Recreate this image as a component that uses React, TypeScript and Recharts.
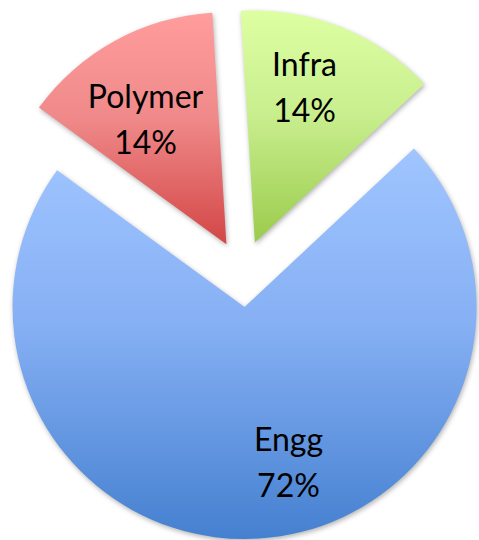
import React from 'react';
import { PieChart, Pie, Cell } from 'recharts';

// ---- data ----
const categories = ['Infra', 'Engg', 'Polymer'];
const shares = [14, 72, 14];
const percentLabels = ['14%', '72%', '14%'];

// ---- layout / style ----
const W = 479;
const H = 540;
const CX = 242.5;
const CY = 273.6;
const R = 232;
const EXPLODE = 33.5;
const START = 93.5;
const gradIds = ['gInfra', 'gEngg', 'gPolymer'];
const labelShift = [3.9, 12.2, 4.3];
const labelRadius = [0.7, 0.7, 0.64];
const RAD = Math.PI / 180;

const rows = categories.map((name, i) => ({ name, value: shares[i], pct: percentLabels[i] }));
const total = shares.reduce((a, b) => a + b, 0);
const mids = shares.map((v, i) => {
  const before = shares.slice(0, i).reduce((a, b) => a + b, 0);
  return START - ((before + v / 2) / total) * 360;
});

const makeLabel = (target: number) => (props: any) => {
  if (props.index !== target) return null;
  const ang = (mids[target] + labelShift[target]) * RAD;
  const r = R * labelRadius[target];
  const x = props.cx + r * Math.cos(ang);
  const y = props.cy - r * Math.sin(ang);
  return (
    <text
      x={x}
      y={y}
      textAnchor="middle"
      fill="#000"
      style={{ fontFamily: 'Lato, "Open Sans", sans-serif', fontSize: 32 }}
    >
      <tspan x={x} y={y - 12}>{rows[target].name}</tspan>
      <tspan x={x} y={y + 34}>{rows[target].pct}</tspan>
    </text>
  );
};

export default function App() {
  return (
    <div style={{ position: 'absolute', left: 0, top: 0, width: W, height: H, background: '#fff' }}>
      <style>{`.slice-shadow path.recharts-sector { filter: drop-shadow(1px 2px 2.5px rgba(0,0,0,0.3)); } .recharts-wrapper svg:focus, .recharts-sector:focus { outline: none; }`}</style>
      <PieChart width={W} height={H} margin={{ top: 0, right: 0, bottom: 0, left: 0 }}>
        <defs>
          <linearGradient id="gInfra" x1="0" y1="0" x2="0" y2="1">
            <stop offset="0%" stopColor="#DDFFA2" />
            <stop offset="45%" stopColor="#C8EE8E" />
            <stop offset="100%" stopColor="#9BCB4C" />
          </linearGradient>
          <linearGradient id="gEngg" x1="0" y1="0" x2="0" y2="1">
            <stop offset="0%" stopColor="#A0C5FF" />
            <stop offset="45%" stopColor="#86B0F4" />
            <stop offset="100%" stopColor="#4580D0" />
          </linearGradient>
          <linearGradient id="gPolymer" x1="0" y1="0" x2="0" y2="1">
            <stop offset="0%" stopColor="#FF9C9C" />
            <stop offset="45%" stopColor="#F08A8A" />
            <stop offset="100%" stopColor="#D34646" />
          </linearGradient>
        </defs>
        {categories.map((c, t) => (
          <Pie
            key={c}
            className="slice-shadow"
            data={rows}
            dataKey="value"
            nameKey="name"
            cx={CX + EXPLODE * Math.cos(mids[t] * RAD)}
            cy={CY - EXPLODE * Math.sin(mids[t] * RAD)}
            innerRadius={0}
            outerRadius={R}
            startAngle={START}
            endAngle={START - 360}
            stroke="none"
            labelLine={false}
            label={makeLabel(t)}
            isAnimationActive={false}
          >
            {rows.map((row, i) => (
              <Cell
                key={row.name}
                fill={i === t ? `url(#${gradIds[i]})` : 'none'}
                stroke="none"
              />
            ))}
          </Pie>
        ))}
      </PieChart>
    </div>
  );
}
